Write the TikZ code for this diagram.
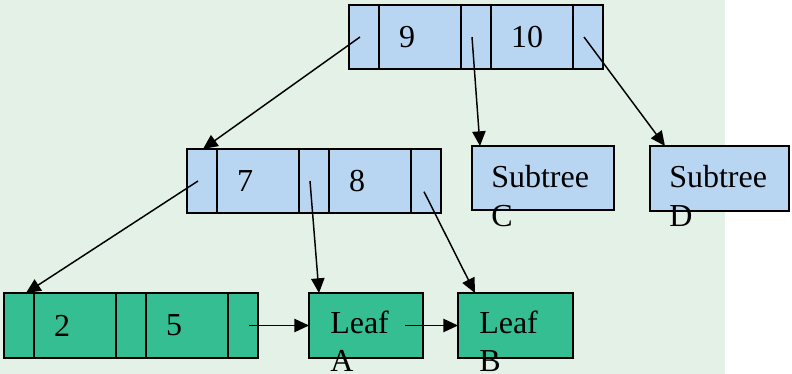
\documentclass[tikz,border=0pt]{standalone}
\usepackage{fontspec}
\setmainfont{Liberation Serif}
\usetikzlibrary{arrows.meta}
\definecolor{slidebg}{RGB}{227,241,230}
\definecolor{innerblue}{RGB}{184,214,242}
\definecolor{leafgreen}{RGB}{52,190,145}

\begin{document}
\begin{tikzpicture}[x=0.75pt,y=-0.75pt,
  font=\fontsize{24}{28.5}\selectfont,
  cell/.style={draw=black, line width=1.4pt, inner sep=0pt, outer sep=0pt, minimum height=48pt},
  ptrcell/.style={cell, minimum width=22.5pt},
  keycell/.style={cell, text width=31.5pt, inner xsep=15pt, align=left},
  inner/.style={fill=innerblue},
  leaf/.style={fill=leafgreen},
  lbl/.style={anchor=base west, inner sep=0pt},
  link/.style={-{Triangle[length=11pt,width=10pt]}, line width=1.1pt}
]
% slide background
\fill[slidebg] (0,0) rectangle (725,374);
\useasboundingbox (0,0) rectangle (792,374);

% root node: 9 | 10
\node[ptrcell, inner, anchor=west] (t0) at (349,37) {};
\node[keycell, inner, anchor=west] (t1) at (t0.east) {9};
\node[ptrcell, inner, anchor=west] (t2) at (t1.east) {};
\node[keycell, inner, anchor=west] (t3) at (t2.east) {10};
\node[ptrcell, inner, anchor=west] (t4) at (t3.east) {};

% internal node: 7 | 8
\node[ptrcell, inner, anchor=west] (m0) at (187,181) {};
\node[keycell, inner, anchor=west] (m1) at (m0.east) {7};
\node[ptrcell, inner, anchor=west] (m2) at (m1.east) {};
\node[keycell, inner, anchor=west] (m3) at (m2.east) {8};
\node[ptrcell, inner, anchor=west] (m4) at (m3.east) {};

% subtrees
\node[cell, inner, anchor=north west, minimum width=106.5pt] (subC) at (472,146) {};
\node[cell, inner, anchor=north west, minimum width=104.25pt, minimum height=48.75pt] (subD) at (650,146) {};
\node[lbl] (cTop) at (491,188) {Subtree};
\node[lbl] (cBot) at (491,226) {C};
\node[lbl] (dTop) at (669,188) {Subtree};
\node[lbl] (dBot) at (669,226) {D};

% leaf level: 2 | 5
\node[ptrcell, leaf, anchor=west, minimum height=48.75pt] (l0) at (4,325.5) {};
\node[keycell, leaf, anchor=west, minimum height=48.75pt] (l1) at (l0.east) {2};
\node[ptrcell, leaf, anchor=west, minimum height=48.75pt] (l2) at (l1.east) {};
\node[keycell, leaf, anchor=west, minimum height=48.75pt] (l3) at (l2.east) {5};
\node[ptrcell, leaf, anchor=west, minimum height=48.75pt] (l4) at (l3.east) {};

% sibling leaves
\node[cell, leaf, anchor=north west, minimum width=85.5pt, minimum height=48.75pt] (leafA) at (309,293) {};
\node[cell, leaf, anchor=north west, minimum width=86.25pt, minimum height=48.75pt] (leafB) at (458,293) {};
\node[lbl] (aTop) at (330,333) {Leaf};
\node[lbl] (aBot) at (330,371) {A};
\node[lbl] (bTop) at (479,333) {Leaf};
\node[lbl] (bBot) at (479,371) {B};

% child pointers
\draw[link] ([xshift=-3pt]t0.center) -- ([xshift=0.75pt]m0.north);
\draw[link] ([xshift=-3pt]t2.center) -- ([xshift=6pt]subC.north west);
\draw[link] ([xshift=-3pt]t4.center) -- ([xshift=11.25pt]subD.north west);
\draw[link] ([xshift=-3pt]m0.center) -- ([xshift=-6pt]l0.north east);
\draw[link] ([xshift=-3pt]m2.center) -- ([xshift=7.5pt]leafA.north west);
\draw[link] ([xshift=-1.5pt,yshift=-8pt]m4.center) -- ([xshift=12.75pt]leafB.north west);

% sibling links between leaves
\draw[link] ([xshift=4.5pt]l4.center) -- (leafA.west);
\draw[link] ([xshift=-13.5pt]leafA.east) -- (leafB.west);
\end{tikzpicture}
\end{document}
